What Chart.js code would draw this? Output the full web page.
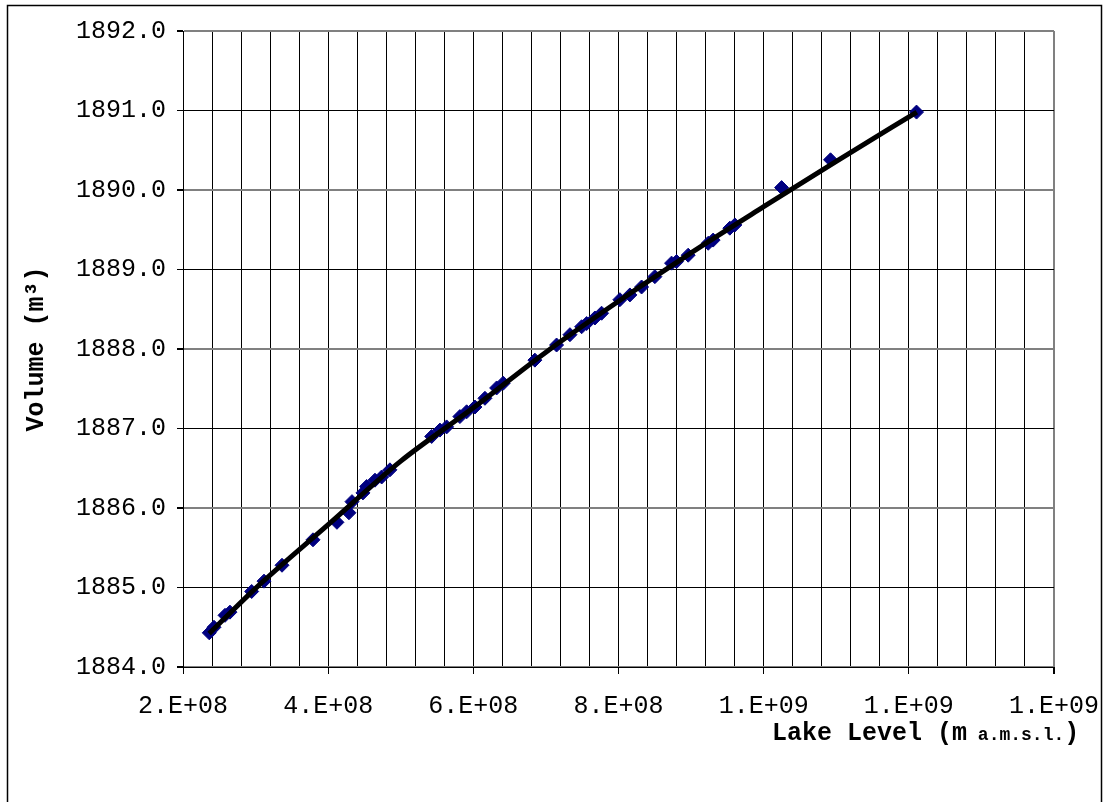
<!DOCTYPE html>
<html>
<head>
<meta charset="utf-8">
<title>Volume vs Lake Level</title>
<script src="https://cdn.jsdelivr.net/npm/chart.js@4.4.0/dist/chart.umd.min.js"></script>
<style>
  html, body { margin: 0; padding: 0; background: #fff; }
  canvas { display: block; }
</style>
</head>
<body>
<canvas id="chart" width="1103" height="802"></canvas>
<script>
// measured points
const pointX = [
  236.2e6, 242.7e6, 257.9e6, 264.7e6, 294.6e6, 311.6e6, 336.4e6, 379.1e6, 412.1e6, 428.6e6,
  432.8e6, 447.9e6, 453.0e6, 464.5e6, 473.7e6, 485.1e6, 542.6e6, 554.0e6, 563.2e6, 581.5e6,
  590.8e6, 602.2e6, 616.0e6, 632.1e6, 641.2e6, 684.8e6, 714.7e6, 733.1e6, 749.2e6, 756.1e6,
  767.5e6, 776.7e6, 801.9e6, 815.7e6, 831.8e6, 850.1e6, 873.1e6, 880.0e6, 896.0e6, 923.6e6,
  930.4e6, 953.4e6, 960.3e6, 1024.7e6, 1092.1e6, 1210.6e6
];
const pointY = [
  1884.43, 1884.50, 1884.65, 1884.69, 1884.95, 1885.08, 1885.28, 1885.60, 1885.82, 1885.94,
  1886.08, 1886.19, 1886.27, 1886.35, 1886.39, 1886.48, 1886.90, 1886.98, 1887.02, 1887.15,
  1887.21, 1887.27, 1887.38, 1887.51, 1887.57, 1887.86, 1888.05, 1888.18, 1888.28, 1888.32,
  1888.39, 1888.45, 1888.62, 1888.68, 1888.78, 1888.91, 1889.08, 1889.10, 1889.18, 1889.33,
  1889.37, 1889.52, 1889.56, 1890.03, 1890.38, 1890.98
];

// fitted curve
const fitX = [236e6, 300e6, 400e6, 500e6, 600e6, 700e6, 800e6, 900e6, 1000e6, 1100e6, 1211e6];
const fitY = [1884.42, 1884.99, 1885.79, 1886.59, 1887.26, 1887.96, 1888.60, 1889.21, 1889.79, 1890.36, 1890.98];

// axis ticks
const xMajorTicks = [2e8, 4e8, 6e8, 8e8, 10e8, 12e8, 14e8];
const xTickLabels = ['2.E+08', '4.E+08', '6.E+08', '8.E+08', '1.E+09', '1.E+09', '1.E+09'];
const yTicks = [1884, 1885, 1886, 1887, 1888, 1889, 1890, 1891, 1892];
const yTickLabels = ['1884.0', '1885.0', '1886.0', '1887.0', '1888.0', '1889.0', '1890.0', '1891.0', '1892.0'];

const FONT = '"Liberation Mono", "Courier New", monospace';

function majorIndex(v) {
    return xMajorTicks.findIndex(t => Math.abs(t - v) < 1);
}

// outer frame and the two axis titles
const decorations = {
    id: 'decorations',
    afterDraw(chart) {
        const ctx = chart.ctx;
        ctx.save();
        ctx.strokeStyle = '#000';
        ctx.lineWidth = 1.5;
        ctx.strokeRect(7.5, 5.5, 1094, 900);

        ctx.fillStyle = '#000';
        ctx.textAlign = 'left';
        ctx.textBaseline = 'alphabetic';
        let x = 772;
        const y = 740;
        ctx.font = 'bold 25px ' + FONT;
        ctx.fillText('Lake Level (m', x, y);
        x += ctx.measureText('Lake Level (m').width;
        ctx.font = 'bold 18px ' + FONT;
        ctx.fillText(' a.m.s.l.', x, y);
        x += ctx.measureText(' a.m.s.l.').width;
        ctx.font = 'bold 25px ' + FONT;
        ctx.fillText(')', x, y);

        ctx.translate(37, 349);
        ctx.rotate(-Math.PI / 2);
        ctx.textAlign = 'center';
        ctx.textBaseline = 'middle';
        ctx.font = 'bold 25px ' + FONT;
        ctx.fillText('Volume (m\u00b3)', 0, 0);
        ctx.restore();
    }
};

const pointData = pointX.map((x, i) => ({ x, y: pointY[i] }));
const fitData = fitX.map((x, i) => ({ x, y: fitY[i] }));

new Chart(document.getElementById('chart'), {
    type: 'scatter',
    data: {
        datasets: [
            {
                label: 'fit',
                data: fitData,
                showLine: true,
                borderColor: '#000',
                borderWidth: 5,
                pointRadius: 0,
                cubicInterpolationMode: 'monotone',
                order: 0
            },
            {
                label: 'measured',
                data: pointData,
                pointStyle: 'rectRot',
                pointRadius: 7,
                backgroundColor: '#000080',
                borderColor: '#000080',
                borderWidth: 1,
                order: 1
            }
        ]
    },
    options: {
        responsive: false,
        animation: false,
        layout: { padding: { left: 0, top: 31, right: 49, bottom: 0 } },
        plugins: {
            legend: { display: false },
            tooltip: { enabled: false }
        },
        scales: {
            x: {
                type: 'linear',
                min: 2e8,
                max: 14e8,
                afterFit: (scale) => {
                    scale.height = 135;
                    scale.paddingLeft = 0;
                    scale.paddingRight = 0;
                },
                border: { display: true, color: '#000', width: 1 },
                grid: {
                    color: (c) => (c.tick && Math.abs(c.tick.value - 14e8) < 1) ? '#808080' : '#000',
                    lineWidth: (c) => (c.tick && Math.abs(c.tick.value - 14e8) < 1) ? 2 : 1,
                    tickColor: (c) => (c.tick && majorIndex(c.tick.value) >= 0) ? '#000' : 'rgba(0,0,0,0)',
                    tickLength: 7
                },
                ticks: {
                    stepSize: 4e7,
                    autoSkip: false,
                    maxRotation: 0,
                    padding: 17,
                    color: '#000',
                    font: { family: FONT, size: 25 },
                    callback: (v) => {
                        const i = majorIndex(v);
                        return i >= 0 ? xTickLabels[i] : '';
                    }
                }
            },
            y: {
                min: 1884,
                max: 1892,
                afterFit: (scale) => { scale.width = 183; },
                border: { display: true, color: '#000', width: 1 },
                grid: {
                    color: (c) => {
                        if (!c.tick) return '#000';
                        return c.tick.value % 2 === 0 ? '#808080' : '#000';
                    },
                    lineWidth: (c) => (c.tick && c.tick.value % 2 === 0) ? 2 : 1,
                    tickColor: '#000',
                    tickLength: 6
                },
                ticks: {
                    stepSize: 1,
                    padding: 11,
                    color: '#000',
                    font: { family: FONT, size: 25 },
                    callback: (v) => {
                        const i = yTicks.indexOf(v);
                        return i >= 0 ? yTickLabels[i] : '';
                    }
                }
            }
        }
    },
    plugins: [decorations]
});
</script>
</body>
</html>
